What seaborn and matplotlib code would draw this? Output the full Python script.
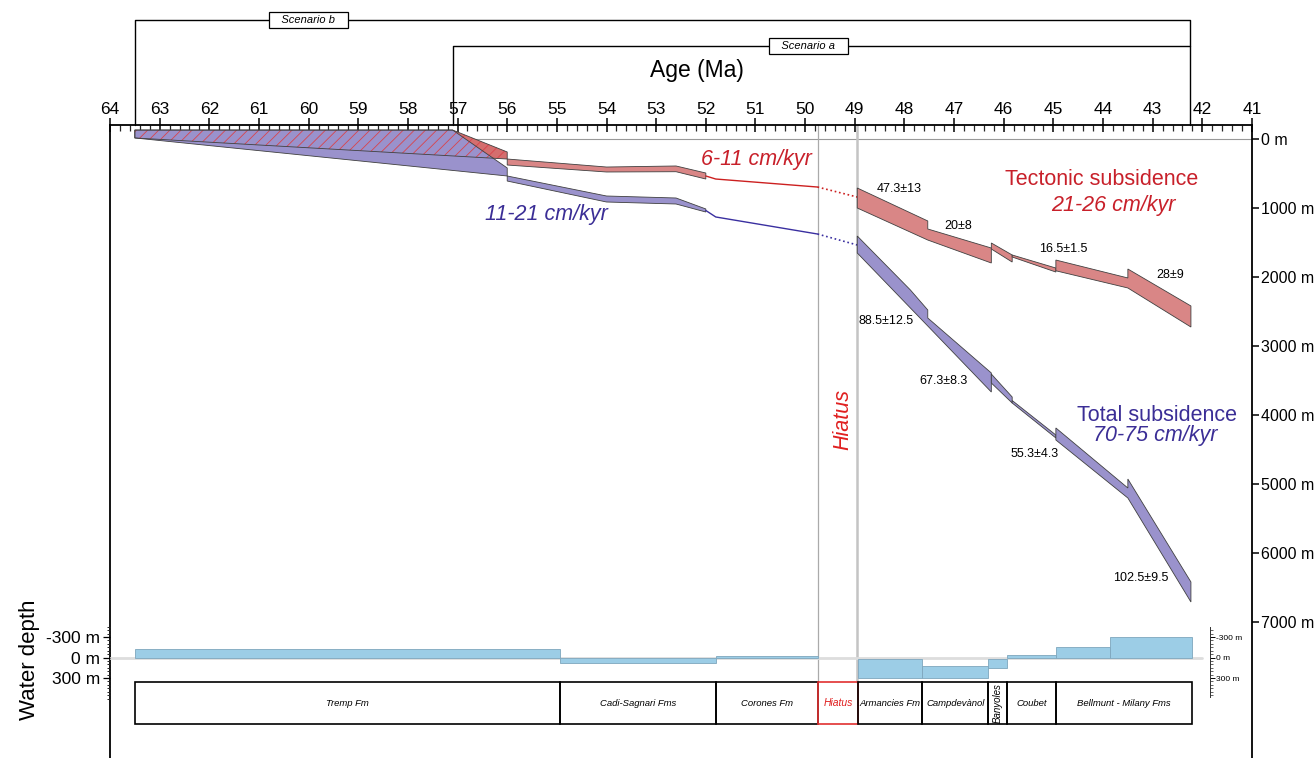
import numpy as np
import matplotlib
matplotlib.use('Agg')
import matplotlib.pyplot as plt
import matplotlib.ticker as mticker
import seaborn as sns

sns.set_theme(style='white')
plt.rcParams['font.family'] = ['Liberation Sans', 'DejaVu Sans']
plt.rcParams['hatch.linewidth'] = 0.6
plt.rcParams['text.color'] = 'black'
plt.rcParams['axes.labelcolor'] = 'black'

# ---------------- data (age in Ma, depth in m) ----------------
# scenario b, 63.5 - 56 Ma
tect_b_age = [63.5, 57.1, 56.0, 56.0, 63.5]
tect_b_depth = [-130, -130, 188, 290, -15]
total_b_age = [63.5, 57.1, 56.0, 56.0, 63.5]
total_b_depth = [-130, -130, 420, 536, -15]

# scenario a, 56 - 52 Ma bands
band_a_age = [56.0, 54.0, 52.6, 52.0]
tect_a_top = [290, 406, 391, 493]
tect_a_bot = [377, 478, 474, 580]
total_a_top = [536, 826, 855, 1014]
total_a_bot = [609, 913, 942, 1058]

# thin lines 52 - 49.75 Ma, dotted across the hiatus
line_age = [52.0, 51.8, 49.75]
tect_line = [536, 580, 696]
total_line = [1036, 1130, 1377]
hiatus_age = [49.75, 48.95]
tect_hiatus = [696, 841]
total_hiatus = [1377, 1536]

# post-hiatus pieces: (top ages, top depths, bottom ages, bottom depths)
tect_pieces = [
    ([48.95, 47.53, 47.53, 46.25], [710, 1188, 1304, 1580], [48.95, 47.53, 46.25], [1000, 1464, 1797]),
    ([46.25, 45.83], [1507, 1681], [46.25, 45.83], [1594, 1783]),
    ([45.83, 44.95], [1681, 1870], [45.83, 44.95], [1710, 1928]),
    ([44.95, 43.5, 43.5, 42.23], [1754, 2014, 1884, 2420], [44.95, 43.5, 42.23], [1910, 2159, 2725]),
]
total_pieces = [
    ([48.95, 47.88, 47.53, 47.53, 46.25], [1406, 2188, 2478, 2594, 3391], [48.95, 47.53, 46.25], [1652, 2710, 3667]),
    ([46.25, 45.83], [3406, 3739], [46.25, 45.83], [3536, 3826]),
    ([45.83, 44.95], [3790, 4290], [45.83, 44.95], [3826, 4333]),
    ([44.95, 43.5, 43.5, 42.23], [4188, 5058, 4928, 6420], [44.95, 43.5, 42.23], [4362, 5203, 6710]),
]

rate_labels = ['47.3±13', '20±8', '16.5±1.5', '28±9',
               '88.5±12.5', '67.3±8.3', '55.3±4.3', '102.5±9.5']
rate_age = [48.10, 46.92, 44.80, 42.65, 48.37, 47.22, 45.37, 43.24]
rate_depth = [725, 1261, 1594, 1971, 2638, 3507, 4565, 6362]

# water depth (negative = above the zero line)
wd_start = [63.5, 54.93, 51.79, 48.93, 47.64, 46.31, 45.93, 44.95, 43.86]
wd_end = [54.93, 51.79, 49.75, 47.64, 46.31, 45.93, 44.95, 43.86, 42.21]
wd_top = [-120, 0, -20, 25, 120, 20, -30, -150, -300]
wd_bot = [0, 85, 5, 300, 300, 150, 0, 0, 0]

# formations
fm_names = ['Tremp Fm', 'Cadi-Sagnari Fms', 'Corones Fm', 'Hiatus', 'Armancies Fm',
            'Campdevànol', 'Banyoles', 'Coubet', 'Bellmunt - Milany Fms']
fm_edges = [63.5, 54.93, 51.79, 49.75, 48.93, 47.64, 46.31, 45.93, 44.95, 42.21]

depth_ticks = [0, 1000, 2000, 3000, 4000, 5000, 6000, 7000]

# ---------------- colours ----------------
RED_FILL = '#d98686'
BLUE_FILL = '#9a92cc'
RED_TXT = '#c8202a'
BLUE_TXT = '#3b2e96'
RED_LINE = '#cc2020'
BLUE_LINE = '#3a2fa0'
EDGE = '#404040'
WATER = '#9ccde6'

W, H = 1316, 758
fig = plt.figure(figsize=(W / 100, H / 100), dpi=100)
ax = fig.add_axes([110 / W, 0, 1142 / W, 633 / H])
ax.set_facecolor('none')

# scenario b (hatched overlap)
ax.fill(tect_b_age, tect_b_depth, facecolor='#d46e6e', edgecolor='none', zorder=1)
ax.fill(total_b_age, total_b_depth, facecolor=BLUE_FILL, edgecolor='none', zorder=2)
ax.fill(tect_b_age, tect_b_depth, facecolor='none', edgecolor='#d9434b', hatch='///', linewidth=0, zorder=3)
ax.fill(tect_b_age, tect_b_depth, facecolor='none', edgecolor=EDGE, linewidth=0.6, zorder=4)
ax.fill(total_b_age, total_b_depth, facecolor='none', edgecolor=EDGE, linewidth=0.6, zorder=4)

# scenario a bands 56-52
ax.fill(band_a_age + band_a_age[::-1], tect_a_top + tect_a_bot[::-1],
        facecolor=RED_FILL, edgecolor=EDGE, linewidth=0.6, zorder=3)
ax.fill(band_a_age + band_a_age[::-1], total_a_top + total_a_bot[::-1],
        facecolor=BLUE_FILL, edgecolor=EDGE, linewidth=0.6, zorder=3)

# thin lines and the hiatus
sns.lineplot(x=line_age, y=tect_line, ax=ax, color=RED_LINE, linewidth=1.0, sort=False, zorder=3)
sns.lineplot(x=line_age, y=total_line, ax=ax, color=BLUE_LINE, linewidth=1.0, sort=False, zorder=3)
sns.lineplot(x=hiatus_age, y=tect_hiatus, ax=ax, color=RED_LINE, linewidth=1.2, linestyle=':', sort=False, zorder=3)
sns.lineplot(x=hiatus_age, y=total_hiatus, ax=ax, color=BLUE_LINE, linewidth=1.2, linestyle=':', sort=False, zorder=3)

# post hiatus pieces
for pieces, col in [(tect_pieces, RED_FILL), (total_pieces, BLUE_FILL)]:
    for ta, td, ba, bd in pieces:
        ax.fill(ta + ba[::-1], td + bd[::-1], facecolor=col, edgecolor=EDGE, linewidth=0.6, zorder=3)

for lab, a, d in zip(rate_labels, rate_age, rate_depth):
    ax.text(a, d, lab, fontsize=9, ha='center', va='center', color='black', zorder=5)

# zero line and hiatus boundaries
ax.plot([57.1, 41], [0, 0], color='#999999', lw=0.8, zorder=0.5)
ax.plot([49.75, 49.75], [-203, 7870], color='#aaaaaa', lw=0.9, zorder=0.6)
ax.plot([48.95, 48.95], [-203, 7870], color='#c4c4c4', lw=1.8, zorder=0.6)

# big labels
ax.text(50.98, 290, '6-11 cm/kyr', color=RED_TXT, fontsize=15.5, style='italic', ha='center', va='center')
ax.text(55.21, 1101, '11-21 cm/kyr', color=BLUE_TXT, fontsize=15.5, style='italic', ha='center', va='center')
ax.text(44.02, 594, 'Tectonic subsidence', color=RED_TXT, fontsize=15.5, ha='center', va='center')
ax.text(43.80, 957, '21-26 cm/kyr', color=RED_TXT, fontsize=15.5, style='italic', ha='center', va='center')
ax.text(42.91, 4000, 'Total subsidence', color=BLUE_TXT, fontsize=15.5, ha='center', va='center')
ax.text(42.95, 4304, '70-75 cm/kyr', color=BLUE_TXT, fontsize=15.5, style='italic', ha='center', va='center')
ax.text(49.24, 4072, 'Hiatus', color='#e02020', fontsize=15.5, style='italic', rotation=90,
        ha='center', va='center')

# scenario brackets
ax.plot([63.5, 63.5, 42.25, 42.25], [-203, -1725, -1725, -203], color='black', lw=1.0, clip_on=False)
ax.plot([57.1, 57.1, 42.25], [-203, -1348, -1348], color='black', lw=1.0, clip_on=False)
box = dict(boxstyle='square,pad=0.3', facecolor='white', edgecolor='black', linewidth=0.9)
ax.text(60.0, -1725, '   Scenario b   ', fontsize=8, style='italic', ha='center', va='center', bbox=box,
        clip_on=False)
ax.text(49.94, -1348, '   Scenario a   ', fontsize=8, style='italic', ha='center', va='center', bbox=box,
        clip_on=False)

# axes styling
ax.set_xlim(64, 41)
ax.set_ylim(8971, -203)
ax.xaxis.tick_top()
ax.xaxis.set_major_locator(mticker.MultipleLocator(1))
ax.xaxis.set_minor_locator(mticker.MultipleLocator(0.2))
ax.tick_params(axis='x', which='major', direction='inout', length=10, width=1.1, labelsize=12.5, pad=1,
               colors='black')
ax.tick_params(axis='x', which='minor', direction='in', length=4, width=0.9, top=True, bottom=False)
ax.xaxis.set_label_position('top')
ax.set_xlabel('Age (Ma)', fontsize=16.5)
ax.xaxis.set_label_coords(0.514, 1.076)
ax.yaxis.tick_right()
ax.set_yticks(depth_ticks)
ax.set_yticklabels([f'{v} m' for v in depth_ticks])
ax.tick_params(axis='y', direction='out', length=5, width=1.1, labelsize=11.5, pad=1.5, colors='black')
for s in ['top', 'left', 'right']:
    ax.spines[s].set_visible(True)
    ax.spines[s].set_color('black')
    ax.spines[s].set_linewidth(1.3)
ax.spines['bottom'].set_visible(False)
ax.grid(False)

# ---------------- water depth panel ----------------
axw = fig.add_axes([110 / W, 0, 1142 / W, 158 / H])
axw.set_facecolor('none')
axw.set_xlim(64, 41)
axw.set_ylim(1471, -842)
axw.plot([64, 42.0], [0, 0], color='#dddddd', lw=2, zorder=0.5)
wd_width = [e - s for s, e in zip(wd_start, wd_end)]
wd_height = [b - t for t, b in zip(wd_top, wd_bot)]
axw.bar(wd_start, wd_height, width=wd_width, bottom=wd_top, align='edge',
        color=WATER, edgecolor='#7ea6bd', linewidth=0.6, zorder=2)

fm_width = [fm_edges[i + 1] - fm_edges[i] for i in range(len(fm_names))]
for i, name in enumerate(fm_names):
    hiatus = name == 'Hiatus'
    axw.bar(fm_edges[i], 615, width=fm_width[i], bottom=359, align='edge', fill=False,
            edgecolor='#e03030' if hiatus else 'black', linewidth=1.2, zorder=3)
    mid = fm_edges[i] + fm_width[i] / 2
    if name == 'Banyoles':
        axw.text(mid, 666, name, fontsize=7, style='italic', rotation=90, ha='center', va='center')
    else:
        axw.text(mid, 666, name, fontsize=7.5 if hiatus else 6.8, style='italic', ha='center', va='center',
                 color='#e02020' if hiatus else 'black')

axw.set_xticks([])
axw.set_yticks([-300, 0, 300])
axw.set_yticklabels(['-300 m', '0 m', '300 m'])
axw.yaxis.set_minor_locator(mticker.FixedLocator(np.arange(-450, 601, 50)))
axw.tick_params(axis='y', which='major', direction='out', length=5, width=0.9, labelsize=12.5, pad=2,
                left=True, colors='black')
axw.tick_params(axis='y', which='minor', direction='out', length=2.5, width=0.7, left=True)
for s in axw.spines.values():
    s.set_visible(False)
axw.grid(False)
fig.text(30 / W, 1 - 660 / H, 'Water depth', rotation=90, fontsize=16, ha='center', va='center')

# small duplicate water depth scale on the right
axr = fig.add_axes([1209 / W, (758 - 697) / H, 0.5 / W, 70 / H])
axr.set_facecolor('none')
axr.set_ylim(578, -447)
axr.set_xticks([])
axr.yaxis.tick_right()
axr.set_yticks([-300, 0, 300])
axr.set_yticklabels(['-300 m', '0 m', '300 m'])
axr.yaxis.set_minor_locator(mticker.FixedLocator(np.arange(-400, 551, 50)))
axr.tick_params(axis='y', which='major', direction='out', length=3.5, width=0.7, labelsize=6, pad=1.5,
                colors='black')
axr.tick_params(axis='y', which='minor', direction='out', length=2, width=0.5)
for s in ['left', 'top', 'bottom']:
    axr.spines[s].set_visible(False)
axr.spines['right'].set_color('#333333')
axr.spines['right'].set_linewidth(0.7)
axr.grid(False)

fig.savefig('out.png', dpi=100)
